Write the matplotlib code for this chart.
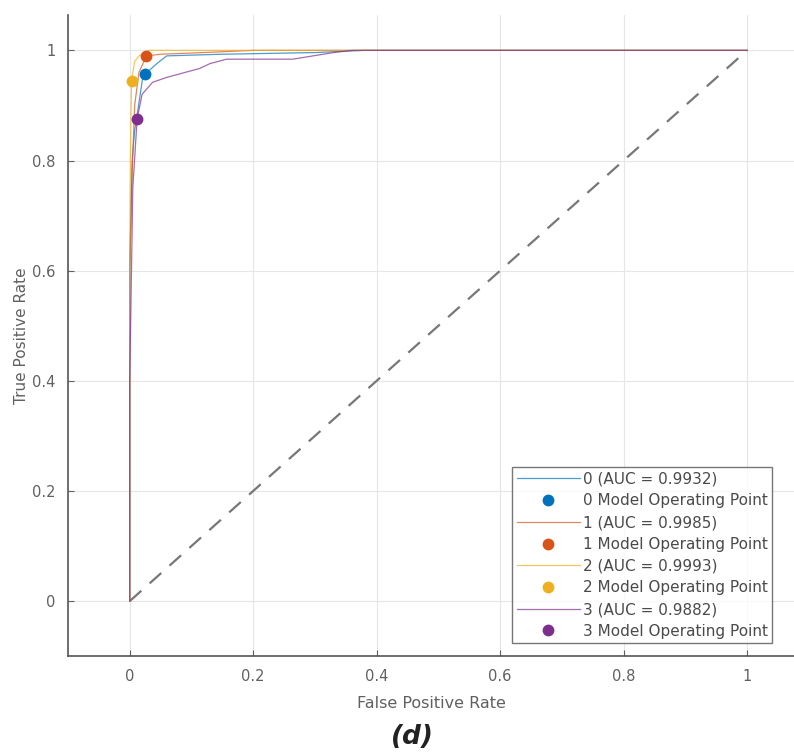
import matplotlib.pyplot as plt

plt.rcParams['font.family'] = ['DejaVu Sans']

# ROC curves (FPR, TPR)
fpr0 = [0.0, 0.0, 0.004, 0.008, 0.013, 0.021, 0.025, 0.044, 0.06, 0.15, 0.3, 0.38, 1.0]
tpr0 = [0.0, 0.6, 0.80, 0.855, 0.89, 0.95, 0.957, 0.976, 0.99, 0.993, 0.996, 1.0, 1.0]

fpr1 = [0.0, 0.0, 0.003, 0.008, 0.015, 0.027, 0.05, 0.12, 0.2, 1.0]
tpr1 = [0.0, 0.6, 0.75, 0.90, 0.96, 0.99, 0.993, 0.996, 1.0, 1.0]

fpr2 = [0.0, 0.0, 0.001, 0.003, 0.008, 0.015, 0.03, 1.0]
tpr2 = [0.0, 0.6, 0.80, 0.945, 0.98, 0.99, 1.0, 1.0]

fpr3 = [0.0, 0.0, 0.005, 0.012, 0.02, 0.037, 0.06, 0.113, 0.13, 0.157, 0.264, 0.33, 0.36, 1.0]
tpr3 = [0.0, 0.40, 0.75, 0.875, 0.92, 0.942, 0.951, 0.967, 0.976, 0.984, 0.984, 0.996, 1.0, 1.0]

# operating points
op_x = [0.025, 0.027, 0.003, 0.012]
op_y = [0.957, 0.99, 0.945, 0.875]

auc = [0.9932, 0.9985, 0.9993, 0.9882]
classes = ['0', '1', '2', '3']
colors = ['#0072BD', '#D95319', '#EDB120', '#7E2F8E']

fig = plt.figure(figsize=(7.94, 7.56), dpi=100)
ax = fig.add_axes([0.0856, 0.132, 0.9144, 0.848])

curves = [(fpr0, tpr0), (fpr1, tpr1), (fpr2, tpr2), (fpr3, tpr3)]
for i, (fx, ty) in enumerate(curves):
    ax.plot(fx, ty, color=colors[i], lw=0.9, alpha=0.7,
            label=f'{classes[i]} (AUC = {auc[i]:.4f})')
    ax.plot(op_x[i], op_y[i], 'o', color=colors[i], ms=8.5, mec='none',
            label=f'{classes[i]} Model Operating Point', zorder=5)

ax.plot([0, 1], [0, 1], '--', color='#777777', lw=1.6, dashes=(7, 5), zorder=1)

ax.set_xlim(-0.1, 1.076)
ax.set_ylim(-0.1, 1.064)
ax.set_xticks([0, 0.2, 0.4, 0.6, 0.8, 1])
ax.set_xticklabels(['0', '0.2', '0.4', '0.6', '0.8', '1'])
ax.set_yticks([0, 0.2, 0.4, 0.6, 0.8, 1])
ax.set_yticklabels(['0', '0.2', '0.4', '0.6', '0.8', '1'])
ax.grid(True, color='#e6e6e6', lw=0.8)
ax.set_axisbelow(True)
for s in ['top', 'right']:
    ax.spines[s].set_visible(False)
for s in ['left', 'bottom']:
    ax.spines[s].set_color('#555555')
    ax.spines[s].set_linewidth(1.2)
ax.tick_params(colors='#606060', labelsize=10.5, length=4, direction='in', pad=9)

ax.set_xlabel('False Positive Rate', fontsize=11.5, color='#606060', labelpad=9)
ax.set_ylabel('True Positive Rate', fontsize=11, color='#606060', labelpad=2)

leg = ax.legend(loc='lower right', bbox_to_anchor=(0.97, 0.02), fontsize=11,
                frameon=True, fancybox=False, edgecolor='#555555',
                handlelength=4.1, labelspacing=0.44, borderpad=0.3,
                handletextpad=0.2, borderaxespad=0)
leg.get_frame().set_linewidth(1.0)
for t in leg.get_texts():
    t.set_color('#4a4a4a')

fig.text(0.52, 0.025, '(d)', fontsize=19, fontweight='bold', fontstyle='italic',
         ha='center', va='center', color='#222222')

fig.savefig('out.png', dpi=100)
